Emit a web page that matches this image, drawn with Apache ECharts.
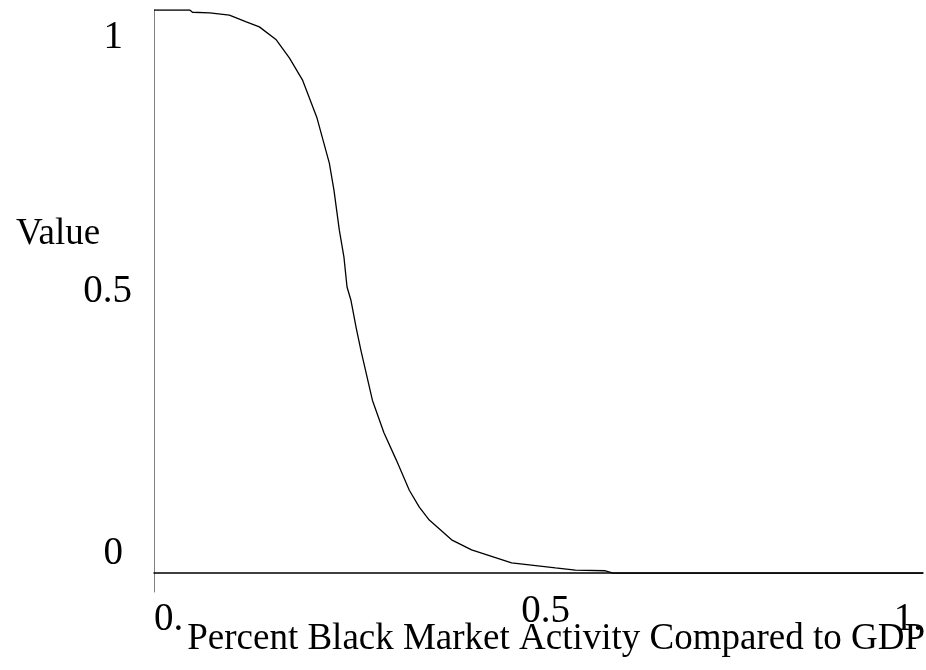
<!DOCTYPE html>
<html>
<head>
<meta charset="utf-8">
<script src="https://cdn.jsdelivr.net/npm/echarts@6/dist/echarts.min.js"></script>
<style>html,body{margin:0;padding:0;background:#fff}#c{width:926px;height:670px}</style>
</head>
<body>
<div id="c"></div>
<script>
const xValues = [0, 0.0466, 0.05, 0.0725, 0.098, 0.12, 0.137, 0.159, 0.176, 0.193, 0.212, 0.228, 0.234, 0.241, 0.247, 0.251, 0.256, 0.263, 0.269, 0.284, 0.299, 0.315, 0.332, 0.345, 0.358, 0.387, 0.413, 0.465, 0.522, 0.548, 0.587, 0.597, 1.0];
const yValues = [1.0, 1.0, 0.996, 0.995, 0.991, 0.979, 0.970, 0.947, 0.915, 0.876, 0.808, 0.728, 0.680, 0.609, 0.561, 0.508, 0.485, 0.435, 0.396, 0.307, 0.249, 0.201, 0.147, 0.117, 0.094, 0.059, 0.041, 0.018, 0.009, 0.005, 0.004, 0.0, 0.0];
const xTicks = [0, 0.5, 1];
const xTickLabels = ['0.', '0.5', '1.'];
const yTicks = [0, 0.5, 1];
const yTickLabels = ['0', '0.5', '1'];
const xTitle = 'Percent Black Market Activity Compared to GDP';
const yTitle = 'Value';

const font = '"Liberation Serif", "Times New Roman", serif';
const chart = echarts.init(document.getElementById('c'));
chart.setOption({
  animation: false,
  backgroundColor: '#fff',
  title: [
    { text: yTitle, left: 16, top: 216, padding: 0, textStyle: { fontFamily: font, fontSize: 37, fontWeight: 'normal', color: '#000' } },
    { text: xTitle, right: 1, top: 621, padding: 0, textStyle: { fontFamily: font, fontSize: 37, fontWeight: 'normal', color: '#000' } }
  ],
  grid: { left: 154, right: 0, top: 10, bottom: 78, containLabel: false },
  xAxis: {
    type: 'value', min: 0, max: 1,
    axisLine: { onZero: true, lineStyle: { color: '#000', width: 1.5 } },
    axisTick: { show: false },
    splitLine: { show: false },
    axisLabel: {
      customValues: xTicks,
      formatter: v => {
        const i = xTicks.indexOf(v);
        return i === 1 ? '{mid|' + xTickLabels[i] + '}' : '{n|' + xTickLabels[i] + '}';
      },
      rich: {
        n: { fontFamily: font, fontSize: 39, color: '#000', padding: [8, 0, 0, 0] },
        mid: { fontFamily: font, fontSize: 39, color: '#000', padding: [0, 0, 8, 14] }
      },
      fontFamily: font, fontSize: 39, color: '#000', margin: 0,
      alignMinLabel: 'left', alignMaxLabel: 'right'
    }
  },
  yAxis: {
    type: 'value', min: -0.0337, max: 1,
    axisLine: { show: true, lineStyle: { color: '#808080', width: 1 } },
    axisTick: { show: false },
    splitLine: { show: false },
    axisLabel: {
      customValues: yTicks,
      formatter: v => {
        const i = yTicks.indexOf(v);
        if (i === 2) return '{top|' + yTickLabels[i] + '}';
        if (i === 1) return '{mid|' + yTickLabels[i] + '}';
        return '{bot|' + yTickLabels[i] + '}';
      },
      rich: {
        top: { fontFamily: font, fontSize: 39, color: '#000', padding: [8, 9, 0, 0] },
        mid: { fontFamily: font, fontSize: 39, color: '#000' },
        bot: { fontFamily: font, fontSize: 39, color: '#000', padding: [0, 9, 0, 0] }
      },
      fontFamily: font, fontSize: 39, color: '#000', margin: 22,
      verticalAlignMinLabel: 'bottom', verticalAlignMaxLabel: 'top'
    }
  },
  series: [{
    type: 'line',
    data: xValues.map((x, i) => [x, yValues[i]]),
    showSymbol: false,
    smooth: false,
    lineStyle: { color: '#000', width: 1.3 }
  }]
});
</script>
</body>
</html>
